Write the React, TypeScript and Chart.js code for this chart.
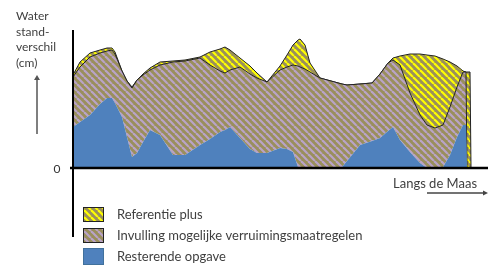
import { useEffect, useRef } from "react";
import { Chart, registerables } from "chart.js";

Chart.register(...registerables);

// Position along the Maas (arbitrary units)
const positions = [0, 7, 17, 27, 34, 39, 42, 49, 54, 59, 64, 70, 77, 87, 100, 112, 127, 137, 147, 152, 157, 167, 177, 184, 194, 207, 214, 220, 225, 227, 232, 237, 247, 269, 274, 287, 299, 307, 315, 320, 327, 337, 347, 354, 362, 370, 377, 384, 390, 393, 394, 397, 398];
// Top of "Resterende opgave" (blue)
const resterendeOpgave = [41, 46, 53, 64, 70, 70, 65, 51, 31, 11, 15, 26, 38, 33, 13, 13, 23, 29, 36, 38, 41, 30, 19, 15, 15, 20, 19, 16, 1, 0, 0, 0, 0, 1, 7, 23, 27, 30, 37, 41, 28, 16, 5, 0, 0, 1, 13, 31, 43, 43, 0, 0, 0];
// Top of "Invulling mogelijke verruimingsmaatregelen" (brown hatched)
const invullingTop = [91, 101, 111, 115, 117, 118, 114, 97, 87, 80, 88, 93, 98, 103, 106, 107, 110, 103, 97, 95, 98, 101, 94, 90, 86, 98, 101, 103, 102, 101, 99, 96, 90, 84, 83, 84, 85, 94, 105, 108, 103, 75, 53, 43, 40, 43, 61, 81, 96, 96, 0, 0, 0];
// Top of "Referentie plus" (yellow hatched)
const referentieTop = [93, 106, 115, 118, 120, 120, 116, 97, 87, 81, 88, 94, 100, 106, 107, 108, 111, 116, 119, 121, 118, 110, 102, 95, 86, 102, 113, 123, 128, 129, 123, 105, 90, 84, 83, 84, 85, 94, 105, 110, 112, 114, 114, 113, 112, 109, 106, 102, 97, 96, 96, 96, 0];

const yAxisTitle = ["Water", "stand-", "verschil", "(cm)"];
const xAxisTitle = "Langs de Maas";
const zeroLabel = "0";
const legendLabels = ["Referentie plus", "Invulling mogelijke verruimingsmaatregelen", "Resterende opgave"];

const OLIVE = "#9a8f5c";
const LAVENDER = "#b9a3c8";
const YELLOW = "#ffff00";
const BLUE = "#4f81bd";
const TEXT = "#3f3f3f";

function makePattern(bg: string, fg: string): CanvasPattern | string {
  const n = 7;
  const c = document.createElement("canvas");
  c.width = n;
  c.height = n;
  const g = c.getContext("2d");
  if (!g) return bg;
  g.fillStyle = bg;
  g.fillRect(0, 0, n, n);
  g.strokeStyle = fg;
  g.lineWidth = 2.2;
  for (let k = -1; k <= 1; k++) {
    g.beginPath();
    g.moveTo(k * n, 0);
    g.lineTo(k * n + n, n);
    g.stroke();
  }
  const p = g.createPattern(c, "repeat");
  return p || bg;
}

function toPoints(vals: number[]) {
  return vals.map((v, i) => ({ x: positions[i], y: v }));
}

export default function App() {
  const ref = useRef<HTMLCanvasElement | null>(null);

  useEffect(() => {
    const canvas = ref.current;
    if (!canvas) return;
    const yellowPat = makePattern(OLIVE, YELLOW);
    const brownPat = makePattern(OLIVE, LAVENDER);

    const overlay = {
      id: "overlay",
      afterDatasetsDraw(chart: any) {
        const ctx = chart.ctx as CanvasRenderingContext2D;
        const xs = chart.scales.x;
        const ys = chart.scales.y;
        const x0 = xs.getPixelForValue(0);
        const y0 = ys.getPixelForValue(0);
        ctx.save();
        // axes
        ctx.strokeStyle = "#000";
        ctx.lineWidth = 2;
        ctx.beginPath();
        ctx.moveTo(x0, ys.getPixelForValue(ys.max));
        ctx.lineTo(x0, y0 + 69);
        ctx.stroke();
        ctx.lineWidth = 2.5;
        ctx.beginPath();
        ctx.moveTo(x0 - 3, y0);
        ctx.lineTo(chart.width, y0);
        ctx.stroke();

        // y-axis title
        ctx.fillStyle = TEXT;
        ctx.font = "12px Lato";
        ctx.textBaseline = "middle";
        ctx.textAlign = "left";
        yAxisTitle.forEach((t, i) => ctx.fillText(t, 16, 16 + i * 15.7));
        // up arrow
        ctx.strokeStyle = "#555";
        ctx.fillStyle = "#555";
        ctx.lineWidth = 1.5;
        ctx.beginPath();
        ctx.moveTo(37, 134);
        ctx.lineTo(37, 79);
        ctx.stroke();
        ctx.beginPath();
        ctx.moveTo(37, 75);
        ctx.lineTo(34, 80);
        ctx.lineTo(40, 80);
        ctx.closePath();
        ctx.fill();

        // zero label
        ctx.fillStyle = "#333";
        ctx.font = "12px Lato";
        ctx.textAlign = "center";
        ctx.fillText(zeroLabel, 57, y0 + 1);

        // x-axis title and arrow
        ctx.fillStyle = TEXT;
        ctx.font = "13px Lato";
        ctx.textAlign = "left";
        ctx.fillText(xAxisTitle, 393, 184);
        ctx.strokeStyle = "#444";
        ctx.fillStyle = "#444";
        ctx.lineWidth = 1.3;
        ctx.beginPath();
        ctx.moveTo(427, 193);
        ctx.lineTo(484, 193);
        ctx.stroke();
        ctx.beginPath();
        ctx.moveTo(488, 193);
        ctx.lineTo(483, 190.5);
        ctx.lineTo(483, 195.5);
        ctx.closePath();
        ctx.fill();

        // legend
        const boxes = [
          { y: 207, h: 15, fill: yellowPat, stroke: "#222" },
          { y: 228, h: 15, fill: brownPat, stroke: "#222" },
          { y: 248, h: 17, fill: BLUE, stroke: "#41719c" },
        ];
        boxes.forEach((b, i) => {
          ctx.fillStyle = b.fill as any;
          ctx.fillRect(83, b.y, 21, b.h);
          ctx.strokeStyle = b.stroke;
          ctx.lineWidth = 1;
          ctx.strokeRect(83.5, b.y + 0.5, 20, b.h - 1);
          ctx.fillStyle = TEXT;
          ctx.font = "13px Lato";
          ctx.textAlign = "left";
          ctx.fillText(legendLabels[i], 117, b.y + b.h / 2 + 0.5);
        });
        ctx.restore();
      },
    };

    const chart = new Chart(canvas, {
      type: "line",
      data: {
        datasets: [
          {
            label: legendLabels[2],
            data: toPoints(resterendeOpgave),
            backgroundColor: BLUE,
            borderColor: BLUE,
            borderWidth: 0,
            fill: "origin",
            pointRadius: 0,
            tension: 0,
          },
          {
            label: legendLabels[1],
            data: toPoints(invullingTop),
            backgroundColor: brownPat as any,
            borderColor: "#222",
            borderWidth: 1,
            fill: "-1",
            pointRadius: 0,
            tension: 0,
          },
          {
            label: legendLabels[0],
            data: toPoints(referentieTop),
            backgroundColor: yellowPat as any,
            borderColor: "#222",
            borderWidth: 1,
            fill: "-1",
            pointRadius: 0,
            tension: 0,
          },
        ],
      },
      options: {
        animation: false,
        responsive: false,
        devicePixelRatio: 1,
        layout: { padding: { left: 73, right: 0, top: 30, bottom: 99 } },
        scales: {
          x: { type: "linear", min: 0, max: 415, display: false },
          y: { min: 0, max: 138, display: false },
        },
        plugins: {
          legend: { display: false },
          tooltip: { enabled: false },
        },
      },
      plugins: [overlay],
    });
    return () => chart.destroy();
  }, []);

  return (
    <div style={{ position: "fixed", left: 0, top: 0, width: 488, height: 267, background: "#fff" }}>
      <canvas ref={ref} width={488} height={267} style={{ display: "block" }} />
    </div>
  );
}
